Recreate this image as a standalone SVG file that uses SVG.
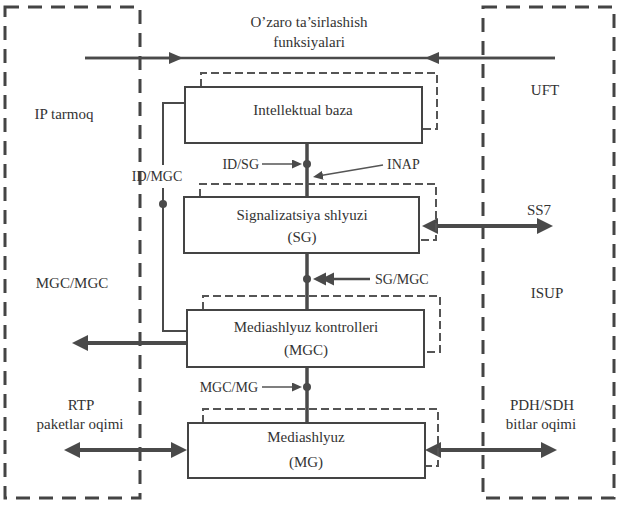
<svg xmlns="http://www.w3.org/2000/svg" width="623" height="513" viewBox="0 0 623 513">
<style>
.region{fill:none;stroke:#444;stroke-width:3;stroke-dasharray:14 9}
.box{fill:#fff;stroke:#444;stroke-width:2}
.shadow{fill:none;stroke:#555;stroke-width:2;stroke-dasharray:8 4}
text{font-family:"Liberation Serif","DejaVu Serif","Times New Roman",serif}
.t{font-family:"Liberation Serif","DejaVu Serif","Times New Roman",serif;font-size:15px;fill:#333;text-anchor:middle}
.s{font-size:14px}
.thick{stroke:#4a4a4a;stroke-width:4;fill:none}
.vert{stroke:#4a4a4a;stroke-width:3.5;fill:none}
.mid{stroke:#4a4a4a;stroke-width:2.5;fill:none}
.thin{stroke:#555;stroke-width:1.5;fill:none}
.dot{fill:#4a4a4a}
.head{fill:#4a4a4a}
</style>
<defs>
<marker id="big" viewBox="0 0 16 16" refX="4" refY="8" markerWidth="16" markerHeight="16" markerUnits="userSpaceOnUse" orient="auto-start-reverse"><path d="M0,0 L16,8 L0,16 z" fill="#4a4a4a"/></marker>
<marker id="med" viewBox="0 0 14 12" refX="4" refY="6" markerWidth="14" markerHeight="12" markerUnits="userSpaceOnUse" orient="auto"><path d="M0,0 L14,6 L0,12 z" fill="#4a4a4a"/></marker>
<marker id="small" viewBox="0 0 10 9" refX="2" refY="4.5" markerWidth="10" markerHeight="9" markerUnits="userSpaceOnUse" orient="auto"><path d="M0,0 L10,4.5 L0,9 z" fill="#4a4a4a"/></marker>
</defs>
<rect width="623" height="513" fill="#fff"/>

<g id="ip-network" font-family="Liberation Serif, serif">
<rect class="region" x="5" y="7" width="135" height="491"/>
<text class="t" x="64" y="119">IP tarmoq</text>
<text class="t" x="72" y="288">MGC/MGC</text>
<text class="t" x="81" y="410">RTP</text>
<text class="t" x="80" y="429">paketlar oqimi</text>
</g>

<g id="pstn" font-family="Liberation Serif, serif">
<rect class="region" x="483" y="7" width="131" height="491"/>
<text class="t" x="545" y="95">UFT</text>
<text class="t" x="539" y="215">SS7</text>
<text class="t" x="547" y="298">ISUP</text>
<text class="t" x="542" y="410">PDH/SDH</text>
<text class="t" x="541" y="429">bitlar oqimi</text>
</g>

<g id="title" font-family="Liberation Serif, serif">
<text class="t" x="309" y="27">O’zaro ta’sirlashish</text>
<text class="t" x="309" y="47">funksiyalari</text>
</g>

<g id="connectors">
<path class="mid" d="M85,58 H555"/>
<path class="mid" d="M85,58 H173" marker-end="url(#med)"/>
<path class="mid" d="M555,58 H435" marker-end="url(#med)"/>
<path class="vert" d="M307,143 V197"/>
<path class="vert" d="M307,253 V310"/>
<path class="vert" d="M307,367 V423"/>
<path class="mid" d="M185,103 H163 V165 M163,188 V331 H187" style="stroke-width:2"/>
<path class="thick" d="M434,226 H541" marker-start="url(#big)" marker-end="url(#big)"/>
<path class="thick" d="M437,450 H545" marker-start="url(#big)" marker-end="url(#big)"/>
<path class="thick" d="M76,450 H175" marker-start="url(#big)" marker-end="url(#big)"/>
<path class="thick" d="M187,343 H84" marker-end="url(#big)"/>
<path class="thin" d="M262,164 H294" marker-end="url(#small)"/>
<path class="thin" d="M262,387 H294" marker-end="url(#small)"/>
<path class="thin" d="M383,165 L320.9,175.6" marker-end="url(#small)"/>
<path class="mid" d="M370,279 H330"/>
<polygon class="head" points="313,279 326,272.5 326,285.5"/>
<polygon class="head" points="321,279 334,272.5 334,285.5"/>
<circle class="dot" cx="307" cy="164" r="4"/>
<circle class="dot" cx="307" cy="279" r="4"/>
<circle class="dot" cx="307" cy="387" r="4"/>
<circle class="dot" cx="163" cy="204" r="4"/>
</g>

<g id="labels" font-family="Liberation Serif, serif">
<text class="t s" x="259" y="169" style="text-anchor:end">ID/SG</text>
<text class="t s" x="387" y="169" style="text-anchor:start">INAP</text>
<text class="t s" x="157" y="181">ID/MGC</text>
<text class="t s" x="375" y="284" style="text-anchor:start">SG/MGC</text>
<text class="t s" x="258" y="392" style="text-anchor:end">MGC/MG</text>
</g>

<g id="intellektual-baza" font-family="Liberation Serif, serif">
<path class="shadow" d="M201,87 V73 H437 V129 H422"/>
<rect class="box" x="185" y="87" width="237" height="56"/>
<text class="t" x="303" y="115">Intellektual baza</text>
</g>

<g id="sg" font-family="Liberation Serif, serif">
<path class="shadow" d="M200,197 V184 H436 V240 H419"/>
<rect class="box" x="184" y="197" width="235" height="56"/>
<text class="t" x="302" y="220">Signalizatsiya shlyuzi</text>
<text class="t" x="302" y="242">(SG)</text>
</g>

<g id="mgc" font-family="Liberation Serif, serif">
<path class="shadow" d="M203,310 V296 H440 V352 H424"/>
<rect class="box" x="187" y="310" width="237" height="57"/>
<text class="t" x="306" y="332">Mediashlyuz kontrolleri</text>
<text class="t" x="306" y="355">(MGC)</text>
</g>

<g id="mg" font-family="Liberation Serif, serif">
<path class="shadow" d="M203,423 V409 H438 V466 H425"/>
<rect class="box" x="188" y="423" width="237" height="55"/>
<text class="t" x="306" y="442">Mediashlyuz</text>
<text class="t" x="306" y="467">(MG)</text>
</g>
</svg>
